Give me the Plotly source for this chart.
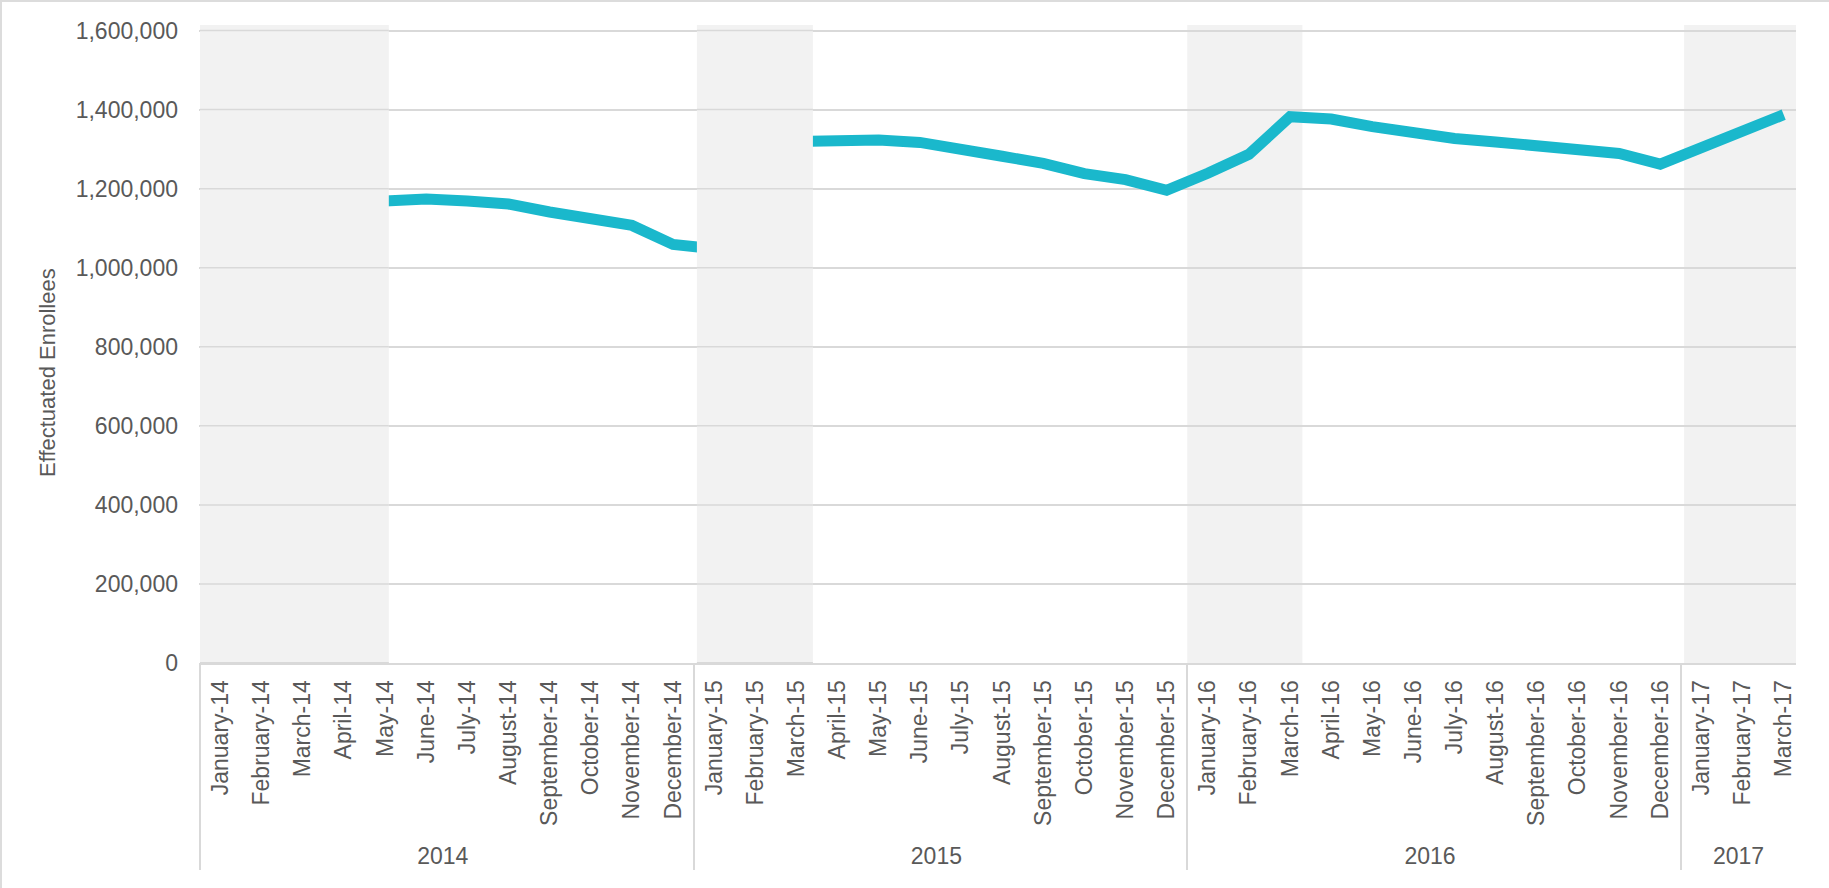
import plotly.graph_objects as go

# ---------------- data ----------------
months = [
    "January-14", "February-14", "March-14", "April-14", "May-14", "June-14",
    "July-14", "August-14", "September-14", "October-14", "November-14", "December-14",
    "January-15", "February-15", "March-15", "April-15", "May-15", "June-15",
    "July-15", "August-15", "September-15", "October-15", "November-15", "December-15",
    "January-16", "February-16", "March-16", "April-16", "May-16", "June-16",
    "July-16", "August-16", "September-16", "October-16", "November-16", "December-16",
    "January-17", "February-17", "March-17",
]
years = ["2014"] * 12 + ["2015"] * 12 + ["2016"] * 12 + ["2017"] * 3

enrollees = [
    None, None, None, None, 1169000, 1174000, 1169000, 1161000, 1141000, 1125000, 1107000, 1059000,
    1048000, None, 1319000, 1323000, 1323000, 1317000, 1303000, 1282000, 1264000, 1238000, 1223000, 1196000,
    1239000, 1287000, 1382000, 1376000, 1357000, 1341000, 1327000, 1318000, 1310000, 1301000, 1289000, 1262000,
    1303000, 1340000, 1387000,
]

y_ticks = [0, 200000, 400000, 600000, 800000, 1000000, 1200000, 1400000, 1600000]

# shaded periods (start month, end month)
bands = [("January-14", "May-14"), ("January-15", "March-15"),
         ("January-16", "March-16"), ("January-17", "March-17")]

# ---------------- style ----------------
TEXT = "#595959"
GRID = "#d9d9d9"
BAND = "#f2f2f2"
LINE = "#1ab8cc"
FONT = "Liberation Sans, Arial, sans-serif"

W, H = 1829, 888
ML, MR, MT, MB = 199, 33, 25, 225
PW, PH = W - ML - MR, H - MT - MB

fig = go.Figure()
fig.add_trace(go.Scatter(
    x=[years, months], y=enrollees, mode="lines",
    line=dict(color=LINE, width=11), connectgaps=False,
    hoverinfo="skip", showlegend=False,
))

start_off = [-0.5, -0.42, -0.5, -0.42]
end_off = [0.09, 0.4, 0.3, 0.3]
covering = [True, True, False, False]
for (s, e), so, eo, cov in zip(bands, start_off, end_off, covering):
    x0 = months.index(s) + so
    x1 = months.index(e) + eo
    fig.add_shape(type="rect", xref="x", yref="paper", x0=x0, x1=x1, y0=0, y1=1,
                  fillcolor=BAND, line=dict(width=0),
                  layer="above" if cov else "below")
    if cov:
        for t in y_ticks:
            fig.add_shape(type="line", xref="x", yref="y", x0=x0, x1=x1, y0=t, y1=t,
                          line=dict(color=GRID, width=2 if t == 0 else 1.5), layer="above")

# chart-area border (top and left)
fig.add_shape(type="line", xref="paper", yref="paper",
              x0=-ML / PW, x1=(W - ML) / PW, y0=(H - MB - 1) / PH, y1=(H - MB - 1) / PH,
              line=dict(color="#dcdcdc", width=2))
fig.add_shape(type="line", xref="paper", yref="paper",
              x0=(-ML + 1) / PW, x1=(-ML + 1) / PW, y0=-MB / PH, y1=(H - MB) / PH,
              line=dict(color="#dcdcdc", width=2))

fig.add_annotation(text="Effectuated Enrollees", textangle=-90,
                   xref="paper", yref="paper", x=(47 - ML) / PW, y=(H - MB - 373) / PH,
                   xanchor="center", yanchor="middle", showarrow=False,
                   font=dict(family=FONT, size=22, color=TEXT))

fig.update_layout(
    width=W, height=H,
    margin=dict(l=ML, r=MR, t=MT, b=MB, pad=0),
    paper_bgcolor="white", plot_bgcolor="white",
    font=dict(family=FONT, size=23, color=TEXT),
    xaxis=dict(
        type="multicategory", tickangle=-90, showgrid=False,
        showline=True, linecolor=GRID, linewidth=2,
        showdividers=True, dividercolor=GRID, dividerwidth=1.5,
        tickfont=dict(family=FONT, size=23, color=TEXT),
        ticks="", ticklabelstandoff=6,
    ),
    yaxis=dict(
        range=[0, 1614000], tickvals=y_ticks, tickformat=",",
        showgrid=True, gridcolor=GRID, gridwidth=1.5, zeroline=False,
        showline=False, ticks="", ticklabelstandoff=20,
        tickfont=dict(family=FONT, size=23, color=TEXT),
    ),
)

fig.write_html("out.html")
